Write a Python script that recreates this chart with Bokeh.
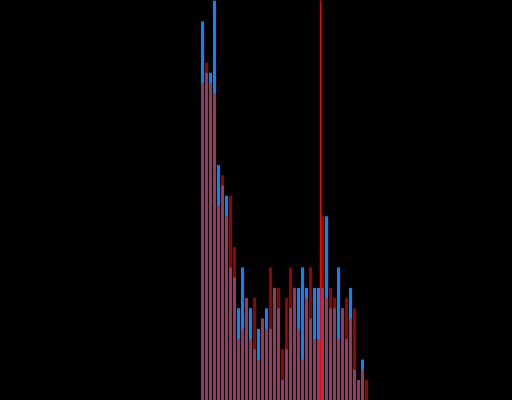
from bokeh.plotting import figure
from bokeh.models import Range1d
from bokeh.embed import file_html
from bokeh.resources import INLINE

# Histogram bins (left edges) and counts for the two series
bins = list(range(42))
blue_counts = [37, 32, 32, 40, 23, 21, 20, 13, 12, 9, 13, 10, 9, 5, 7, 8, 9, 7, 11, 9, 2,
               5, 9, 11, 11, 13, 11, 8, 11, 11, 11, 18, 9, 9, 13, 9, 6, 11, 3, 2, 4, 0]
red_counts = [31, 33, 31, 30, 19, 22, 18, 20, 15, 6, 7, 10, 6, 10, 4, 8, 7, 13, 11, 11, 5,
              10, 13, 11, 7, 4, 10, 13, 6, 6, 18, 10, 11, 10, 6, 9, 10, 8, 9, 2, 3, 2]
threshold = 30
y_top = 39.0625

centers = [b + 0.5 for b in bins]

p = figure(width=512, height=400, output_backend="svg", toolbar_location=None,
           x_range=Range1d(-50.0, 78.0), y_range=Range1d(0, y_top),
           min_border=0, min_border_left=0, min_border_right=0,
           min_border_top=0, min_border_bottom=0)
p.background_fill_color = "black"
p.border_fill_color = "black"
p.outline_line_color = None
p.axis.visible = False
p.xgrid.visible = False
p.ygrid.visible = False

p.vbar(x=centers, top=blue_counts, width=0.75, bottom=0,
       fill_color="#0088ff", line_color=None)
p.vbar(x=centers, top=red_counts, width=0.75, bottom=0,
       fill_color="#ff0000", fill_alpha=0.6, line_color=None)

p.segment(x0=[threshold], y0=[-1], x1=[threshold], y1=[y_top + 1],
          line_color="#ff0000", line_width=1)

html = file_html(p, INLINE)
html = html.replace("<head>", "<head><style>html,body{margin:0;padding:0;background:#000;overflow:hidden}</style>", 1)
open("out.html", "w").write(html)
